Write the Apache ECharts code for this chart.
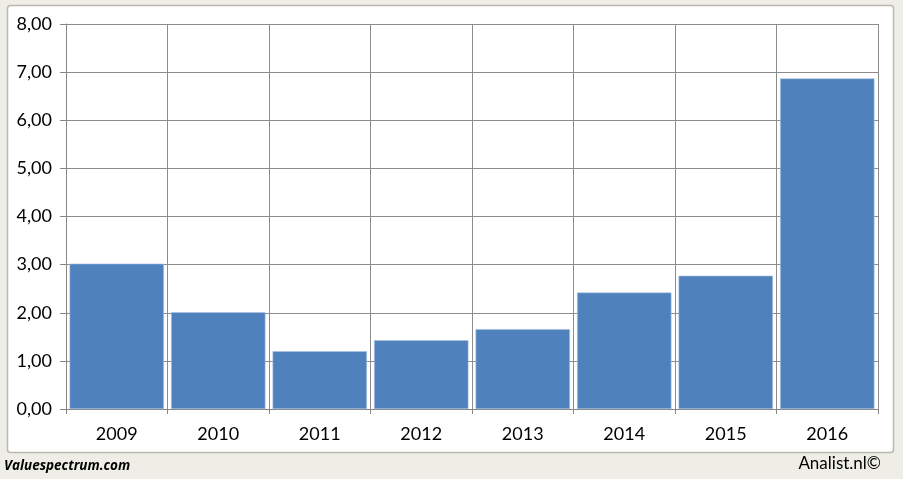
<!DOCTYPE html>
<html><head><meta charset="utf-8">
<script src="https://cdn.jsdelivr.net/npm/echarts@6/dist/echarts.min.js"></script>
<style>html,body{margin:0;padding:0;background:#EEEDE6;}#c{width:903px;height:479px;}</style>
</head><body><div id="c"></div>
<script>
const categories = ['2009','2010','2011','2012','2013','2014','2015','2016'];
const values = [3.02, 2.01, 1.20, 1.43, 1.66, 2.42, 2.77, 6.87];
const yTicks = [0, 1, 2, 3, 4, 5, 6, 7, 8];

const chart = echarts.init(document.getElementById('c'));
const font = 'Lato, "Open Sans", sans-serif';
chart.setOption({
  animation: false,
  backgroundColor: '#EEEDE6',
  graphic: [
    {type:'rect', shape:{x:7.5, y:5.5, width:886, height:447, r:3}, style:{fill:'#FFFFFF', stroke:'#B9B9B0', lineWidth:1.5}, z:-10},
    {type:'text', left:4, top:459, style:{text:'Valuespectrum.com', font:'italic bold 13.5px "Open Sans", sans-serif', fill:'#000'}},
    {type:'text', right:22, top:455, style:{text:'Analist.nl©', font:'17px ' + font, fill:'#000'}}
  ],
  grid: {left: 66, right: 25, top: 24, bottom: 70},
  xAxis: {
    type: 'category',
    data: categories,
    axisLine: {show: true, lineStyle: {color: '#868686', width: 1}},
    axisTick: {show: true, length: 5, lineStyle: {color: '#868686'}},
    axisLabel: {color: '#000', fontSize: 18, fontFamily: font, margin: 16},
    splitLine: {show: true, lineStyle: {color: '#8C8C8C', width: 1}}
  },
  yAxis: {
    type: 'value',
    min: yTicks[0], max: yTicks[yTicks.length-1], interval: 1,
    axisLine: {show: true, lineStyle: {color: '#868686'}},
    axisTick: {show: true, length: 6, lineStyle: {color: '#868686'}},
    axisLabel: {color: '#000', fontSize: 18, fontFamily: font, margin: 14,
      formatter: v => v.toFixed(2).replace('.', ',')},
    splitLine: {show: true, lineStyle: {color: '#8C8C8C', width: 1}}
  },
  series: [{
    type: 'bar',
    data: values,
    barCategoryGap: '7%',
    itemStyle: {color: '#4F81BD', borderColor: '#A9C1E0', borderWidth: 0.6}
  }]
});
</script></body></html>
